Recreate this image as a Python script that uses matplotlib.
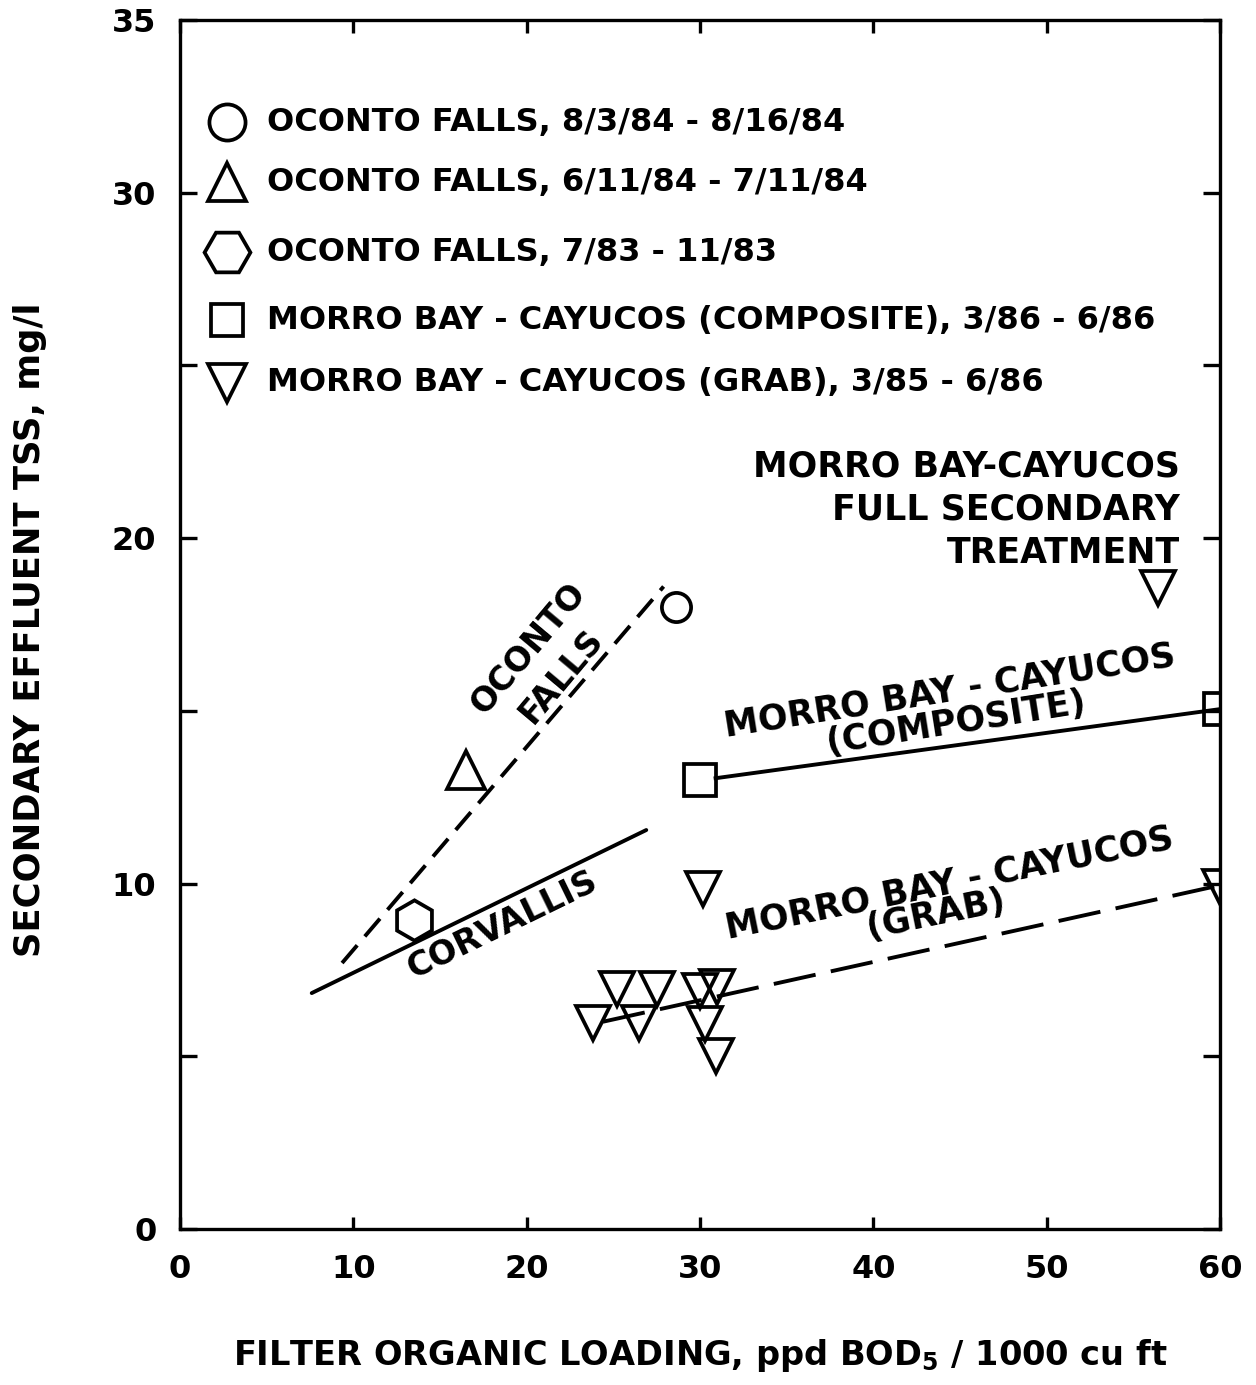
import matplotlib
matplotlib.use('Agg')
import matplotlib.pyplot as plt

plt.rcParams['font.family'] = ['DejaVu Sans']
plt.rcParams['font.weight'] = 'bold'
plt.rcParams['mathtext.fontset'] = 'dejavusans'

# Data
circle_x = [28.6]
circle_y = [18.0]
tri_x = [16.5]
tri_y = [13.3]
hex_x = [13.5]
hex_y = [8.95]
comp_x = [30.0, 60.0]
comp_y = [13.0, 15.05]
grab_x = [56.4, 30.2, 60.0, 25.2, 27.5, 30.0, 31.0, 23.8, 26.5, 30.3, 30.9]
grab_y = [18.55, 9.85, 9.9, 6.95, 6.95, 6.9, 7.0, 5.96, 5.96, 5.93, 5.0]

# Trend lines (end points)
oconto_line_x = [9.35, 27.9]
oconto_line_y = [7.7, 18.6]
corvallis_line_x = [7.6, 26.9]
corvallis_line_y = [6.83, 11.55]
comp_line_x = [30.9, 60.0]
comp_line_y = [13.05, 15.05]
grab_line_x = [24.4, 60.0]
grab_line_y = [6.0, 9.95]

legend_labels = [
    'OCONTO FALLS, 8/3/84 - 8/16/84',
    'OCONTO FALLS, 6/11/84 - 7/11/84',
    'OCONTO FALLS, 7/83 - 11/83',
    'MORRO BAY - CAYUCOS (COMPOSITE), 3/86 - 6/86',
    'MORRO BAY - CAYUCOS (GRAB), 3/85 - 6/86',
]

x_ticks = [0, 10, 20, 30, 40, 50, 60]
y_ticks = [0, 5, 10, 15, 20, 25, 30, 35]
y_tick_labels = ['0', '', '10', '', '20', '', '30', '35']

fig = plt.figure(figsize=(12.56, 13.85), dpi=100)
ax = fig.add_axes([180 / 1256, 1 - 1229 / 1385, 1040 / 1256, 1209 / 1385])

mk = dict(color='black', mfc='none', mew=2.7, linestyle='none')

ax.plot(oconto_line_x, oconto_line_y, color='black', lw=2.8, dashes=(6, 3))
ax.plot(corvallis_line_x, corvallis_line_y, color='black', lw=2.8, solid_capstyle='round')
ax.plot(comp_line_x, comp_line_y, color='black', lw=2.8)
ax.plot(grab_line_x, grab_line_y, color='black', lw=2.8, dashes=(11, 4))

ax.plot(circle_x, circle_y, marker='o', ms=21, **mk)
ax.plot(tri_x, tri_y, marker='^', ms=27, **mk)
ax.plot(hex_x, hex_y, marker='h', ms=29, **mk)
ax.plot(comp_x, comp_y, marker='s', ms=23, **mk)
ax.plot(grab_x, grab_y, marker='v', ms=25, **mk)

# legend drawn by hand to match the original layout
leg_markers = [('o', 26), ('^', 28), ('H', 33), ('s', 23), ('v', 27)]
leg_rows = [122, 182, 252, 320, 383]
for (m, s), row, lab in zip(leg_markers, leg_rows, legend_labels):
    yy = (1229 - row) / 1209
    ax.plot([47 / 1040], [yy], marker=m, ms=s, transform=ax.transAxes, clip_on=False, **mk)
    ax.text(87 / 1040, yy, lab, transform=ax.transAxes, fontsize=23, fontweight='bold',
            ha='left', va='center')

lbl = dict(fontweight='bold', ha='center', va='center', rotation_mode='anchor')
ax.text(20.1, 16.8, 'OCONTO', rotation=50, fontsize=24, **lbl)
ax.text(22.0, 16.0, 'FALLS', rotation=50, fontsize=24, **lbl)
ax.text(18.6, 8.8, 'CORVALLIS', rotation=26, fontsize=24, **lbl)
ax.text(44.4, 15.58, 'MORRO BAY - CAYUCOS', rotation=9, fontsize=25, **lbl)
ax.text(44.8, 14.65, '(COMPOSITE)', rotation=9, fontsize=25, **lbl)
ax.text(44.4, 10.0, 'MORRO BAY - CAYUCOS', rotation=11.5, fontsize=25, **lbl)
ax.text(43.6, 9.1, '(GRAB)', rotation=11.5, fontsize=25, **lbl)
for txt, yy in zip(['MORRO BAY-CAYUCOS', 'FULL SECONDARY', 'TREATMENT'], [22.06, 20.82, 19.57]):
    ax.text(57.7, yy, txt, fontsize=25, fontweight='bold', ha='right', va='center')

ax.set_xlim(0, 60)
ax.set_ylim(0, 35)
ax.set_xticks(x_ticks)
ax.set_yticks(y_ticks)
ax.set_yticklabels(y_tick_labels)
ax.tick_params(direction='in', top=True, right=True, width=2.4, labelsize=23)
ax.tick_params(axis='y', length=12, pad=17)
ax.tick_params(axis='x', length=9, pad=18)
for lab in ax.get_xticklabels() + ax.get_yticklabels():
    lab.set_fontweight('bold')
for sp in ax.spines.values():
    sp.set_linewidth(2.4)

fig.text(700 / 1256, 1 - 1355 / 1385, r'FILTER ORGANIC LOADING, ppd BOD$_{\mathbf{5}}$ / 1000 cu ft',
         fontsize=24.2, fontweight='bold', ha='center', va='center')
fig.text(30 / 1256, 1 - 630 / 1385, 'SECONDARY EFFLUENT TSS, mg/l', rotation=90,
         fontsize=25.5, fontweight='bold', ha='center', va='center')

fig.savefig('out.png', dpi=100)
